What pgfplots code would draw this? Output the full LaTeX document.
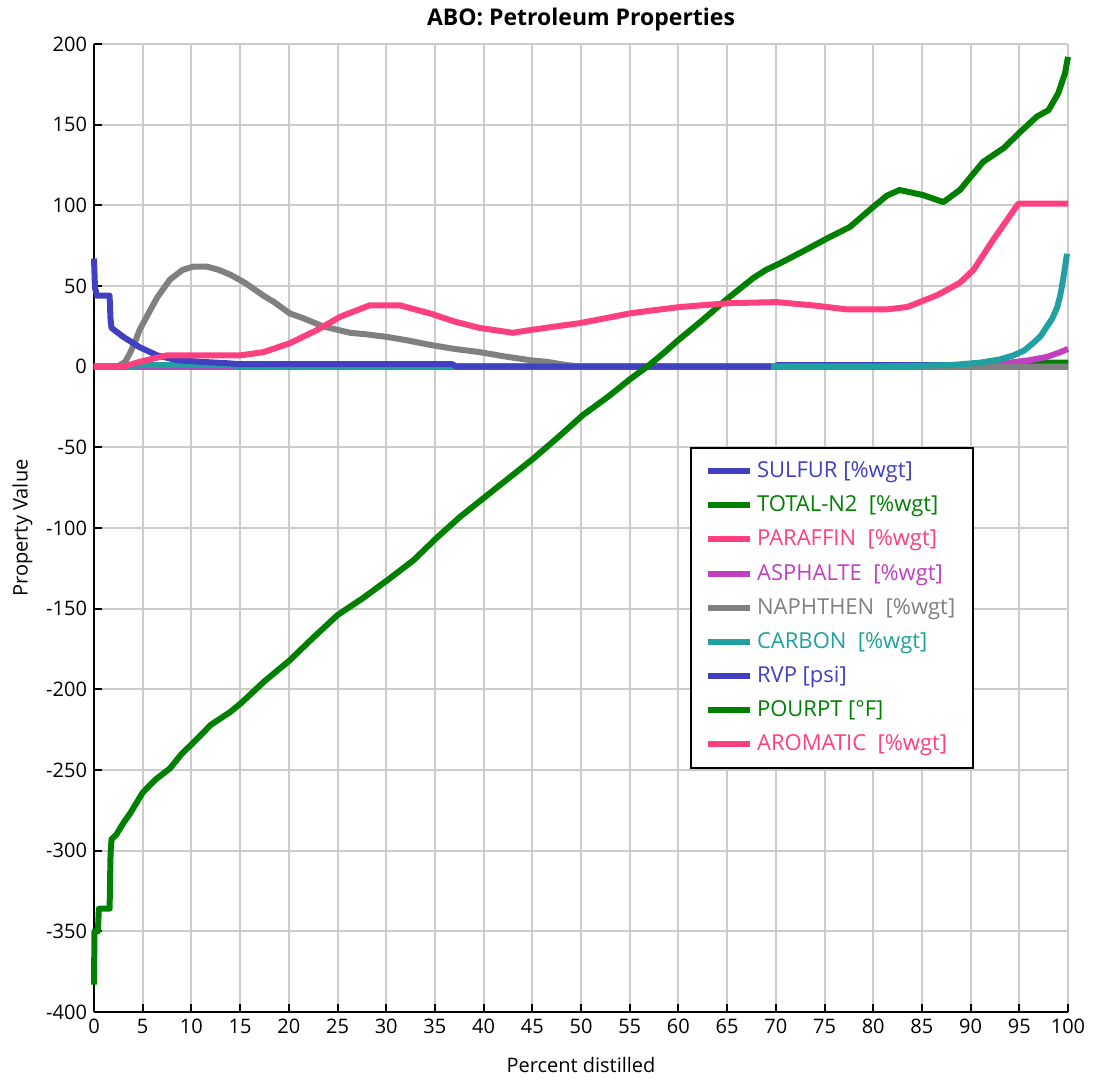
\documentclass[border=0pt]{standalone}
\usepackage{pgfplots}
\pgfplotsset{compat=1.18}
\usepackage{fontspec}
\setmainfont{Open Sans}
\definecolor{cblue}{RGB}{64,64,192}
\definecolor{cgreen}{RGB}{0,128,0}
\definecolor{cpink}{RGB}{255,64,128}
\definecolor{cpurple}{RGB}{192,64,192}
\definecolor{cgray}{RGB}{128,128,128}
\definecolor{cteal}{RGB}{32,160,160}
\definecolor{cgrid}{RGB}{204,204,204}
\begin{document}
\begin{tikzpicture}
\useasboundingbox (0,0) rectangle (549.5pt,541pt);
\begin{axis}[
  at={(47pt,35pt)}, anchor=south west,
  scale only axis, width=487pt, height=484pt,
  xmin=0, xmax=100, ymin=-400, ymax=200,
  xtick={0,5,...,100}, ytick={-400,-350,...,200},
  axis x line*=bottom, axis y line*=left,
  axis line style={-, black, line width=1pt},
  tick align=inside, major tick length=4pt,
  tick style={black, line width=1pt},
  grid=major, major grid style={draw=cgrid, line width=1pt},
  /pgf/number format/assume math mode=true,
  ticklabel style={font=\fontsize{10}{12}\selectfont},
  title={\textbf{ABO: Petroleum Properties}},
  title style={font=\fontsize{11.5}{13}\selectfont, yshift=-3pt},
  xlabel={Percent distilled}, ylabel={Property Value},
  label style={font=\fontsize{10}{12}\selectfont},
  xlabel style={yshift=-5pt},
  clip=false,
  legend style={at={(0.612,0.584)}, anchor=north west, draw=black, line width=1pt,
    font=\fontsize{11}{13}\selectfont, row sep=3.6pt, inner xsep=7pt, inner ysep=5pt},
  legend cell align=left,
  legend image code/.code={\draw[line width=3pt] (0pt,0pt) -- (21pt,0pt);},
  every axis plot/.append style={line width=3pt, line join=round},
]
% SULFUR
\addplot[cblue] coordinates {(0,0) (69.8,0) (70.2,1) (100,1)};
\addlegendentry{\textcolor{cblue}{SULFUR [\%wgt]}}
% TOTAL-N2
\addplot[cgreen] coordinates {(0,0) (96.5,0) (97,2.5) (100,2.5)};
\addlegendentry{\textcolor{cgreen}{TOTAL-N2\ \ [\%wgt]}}
% PARAFFIN
\addplot[cpink] coordinates {(0,0) (100,0)};
\addlegendentry{\textcolor{cpink}{PARAFFIN\ \ [\%wgt]}}
% ASPHALTE
\addplot[cpurple] coordinates {(0,0) (88,0) (92,1) (94,2.5) (96,4) (97.8,6) (99,8.5) (100,11)};
\addlegendentry{\textcolor{cpurple}{ASPHALTE\ \ [\%wgt]}}
% NAPHTHEN
\addplot[cgray] coordinates {(0,0) (2.4,0) (3.2,3) (3.7,8.5) (4.2,15) (4.7,23) (5.5,32) (6.5,43) (7.8,54) (9.1,60) (10.2,62) (11.6,62) (12.8,60) (14,57) (15.5,52) (17.4,44) (18.5,40) (20.1,33) (21.5,30) (23.5,25) (26.3,21) (28,20) (30,18.5) (32,16.5) (34.5,13.5) (37,11) (39.6,9) (42,6.5) (44.8,4) (46.5,3) (48.5,1) (50,0) (100,0)};
\addlegendentry{\textcolor{cgray}{NAPHTHEN\ \ [\%wgt]}}
% CARBON
\addplot[cteal] coordinates {(0,0) (3,0) (5,1) (14,1) (15,0) (80,0) (88,1) (91,2.5) (93,4.5) (94.4,7) (95.5,10) (96.4,14.5) (97.2,19) (97.8,24.6) (98.4,30) (98.9,37) (99.2,44) (99.5,54) (99.7,62) (99.9,70)};
\addlegendentry{\textcolor{cteal}{CARBON\ \ [\%wgt]}}
% RVP
\addplot[cblue] coordinates {(0,67) (0.1,49) (0.3,44) (1.6,44) (1.7,29) (1.8,24) (3,18.5) (4.7,12) (6.5,7) (8.5,4) (11,3) (14,2) (15,1.5) (36.8,1.5) (37.2,0) (69.5,0)};
\addlegendentry{\textcolor{cblue}{RVP [psi]}}
% POURPT
\addplot[cgreen] coordinates {(0,-383) (0.05,-350) (0.4,-350) (0.5,-336) (1.6,-336) (1.7,-302) (1.8,-293) (2.3,-290) (3,-283) (3.7,-277) (5,-264) (6.3,-256) (7.8,-249) (9,-240) (10.2,-233) (12,-222) (14,-214) (15.2,-208) (17.5,-195) (20.1,-182) (22.5,-168) (25,-154) (27.6,-143.5) (30.2,-132) (32.8,-120) (35.2,-106) (37.6,-93) (40.1,-81) (42.6,-69) (45.1,-57) (47.6,-44) (50.2,-30) (52.7,-19) (55.2,-7) (56.8,0) (58.4,8) (60,16.5) (62.5,29) (65,42) (67.7,55) (69,60) (70.4,64) (72.8,71.5) (75.3,79.6) (77.6,86.6) (80,99) (81.4,106) (82.7,109.5) (85.1,106.4) (87.2,102) (88.9,109.5) (90.2,119) (91.3,127) (93.4,135.5) (95.1,145.5) (96.8,155) (98,159) (99,169.5) (99.7,182) (100,192)};
\addlegendentry{\textcolor{cgreen}{POURPT [°F]}}
% AROMATIC
\addplot[cpink] coordinates {(0,0) (3,0) (4.7,3) (7.5,7) (15,7) (17.4,9) (20.1,14.5) (22.9,22.7) (25.3,31) (27,35) (28.3,38) (31.4,38) (34.5,33) (37,28) (39.6,24) (43,21) (44.8,22.7) (47.5,25) (49.9,27) (52.5,30) (55,33) (57.5,35) (60.2,37) (65.3,39.4) (70.1,40) (73.8,38) (77.3,35.5) (81.4,35.5) (83.5,37) (86.6,44.4) (88.9,52) (90.3,60) (92.3,78.5) (94.9,101) (100,101)};
\addlegendentry{\textcolor{cpink}{AROMATIC\ \ [\%wgt]}}
\end{axis}
\end{tikzpicture}
\end{document}
